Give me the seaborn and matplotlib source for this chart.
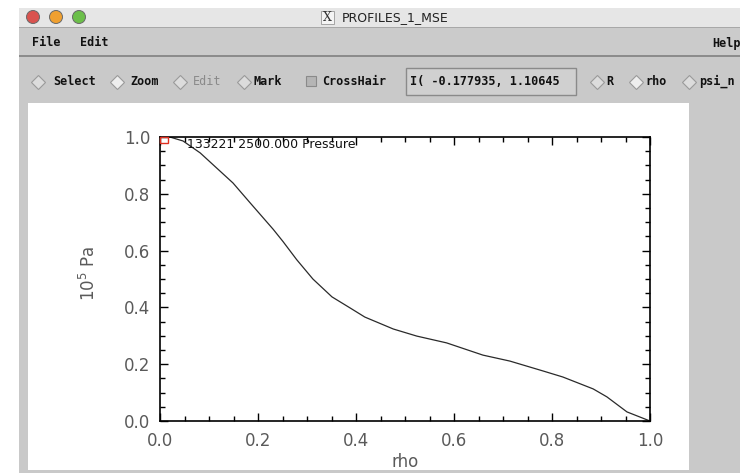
import matplotlib
matplotlib.use("Agg")
import matplotlib.pyplot as plt
from matplotlib.patches import Rectangle, Ellipse
from matplotlib.lines import Line2D
from matplotlib.ticker import MultipleLocator, FormatStrFormatter
import seaborn as sns
import pandas as pd

# ---- data ----
rho = [0.0, 0.02, 0.047, 0.082, 0.149, 0.184, 0.231, 0.251, 0.279, 0.312,
       0.351, 0.388, 0.418, 0.476, 0.524, 0.585, 0.659, 0.714, 0.782, 0.822,
       0.884, 0.912, 0.953, 1.0]
pressure = [1.0, 1.0, 0.986, 0.944, 0.838, 0.768, 0.675, 0.632, 0.568, 0.50,
            0.437, 0.398, 0.366, 0.324, 0.299, 0.275, 0.232, 0.211, 0.176, 0.155,
            0.113, 0.085, 0.032, 0.0]
x_ticks = [0.0, 0.2, 0.4, 0.6, 0.8, 1.0]
y_ticks = [0.0, 0.2, 0.4, 0.6, 0.8, 1.0]
red_box = (0.0, 0.978, 0.016, 0.022)   # x, y, width, height in data units
plot_title = "133221 2500.000 Pressure"
window_title = "PROFILES_1_MSE"
cursor_text = "I( -0.177935, 1.10645"

df = pd.DataFrame({"rho": rho, "pressure": pressure})

sns.set_theme(style="ticks")
plt.rcParams["font.family"] = ["DejaVu Sans"]
plt.rcParams["mathtext.fontset"] = "custom"
plt.rcParams["mathtext.rm"] = "DejaVu Sans"

W, H = 740, 473
fig = plt.figure(figsize=(W / 100, H / 100), dpi=100, facecolor="white")


def box(x0, y0, x1, y1, **kw):
    r = Rectangle((x0 / W, 1 - y1 / H), (x1 - x0) / W, (y1 - y0) / H,
                  transform=fig.transFigure, zorder=-5, **kw)
    fig.add_artist(r)
    return r


def ftext(x, y, s, **kw):
    fig.text(x / W, 1 - y / H, s, **kw)


def diamond(x, y, fc="#dcdcdc"):
    fig.add_artist(Line2D([x / W], [1 - y / H], marker="D", markersize=7,
                          markerfacecolor=fc, markeredgecolor="#9a9a9a",
                          markeredgewidth=0.8, transform=fig.transFigure))


# ---- window chrome ----
gray = "#c9c9c9"
box(19, 8, 740, 28, facecolor="#e6e6e6", edgecolor="none")
box(19, 27, 740, 28.5, facecolor="#a8a8a8", edgecolor="none")
box(19, 28.5, 740, 55, facecolor="#cbcbcb", edgecolor="none")
box(19, 55, 740, 57.5, facecolor="#8c8c8c", edgecolor="none")
box(19, 57.5, 740, 473, facecolor=gray, edgecolor="none")
box(28, 103, 689, 470, facecolor="white", edgecolor="none")

for cx, col in [(33, "#d9534f"), (56, "#f0a030"), (79, "#6cbf4a")]:
    fig.add_artist(Ellipse((cx / W, 1 - 17 / H), 13 / W, 13 / H, transform=fig.transFigure,
                           facecolor=col, edgecolor="#6a6a6a", lw=0.7))

box(321, 11, 334, 24, facecolor="#f4f4f4", edgecolor="#999", lw=0.6)
ftext(327.5, 17.5, "X", fontsize=9, family="DejaVu Serif", ha="center", va="center", color="#333")
ftext(342, 17.5, window_title, fontsize=9, ha="left", va="center", color="#222")

mono = dict(family="DejaVu Sans Mono", fontweight="bold", fontsize=8.5, va="center", color="#111")
ftext(32, 43, "File", ha="left", **mono)
ftext(80, 43, "Edit", ha="left", **mono)
ftext(712, 43, "Help", ha="left", **mono)

ty = 81.5
diamond(38, ty)
ftext(53, ty, "Select", ha="left", **mono)
diamond(117, ty, fc="#eeeeee")
ftext(130, ty, "Zoom", ha="left", **mono)
diamond(180, ty)
ftext(193, ty, "Edit", ha="left", family="DejaVu Sans Mono", fontsize=8.5, va="center", color="#8a8a8a")
diamond(244, ty)
ftext(254, ty, "Mark", ha="left", **mono)
box(306, 76, 316, 86, facecolor="#b5b5b5", edgecolor="#8a8a8a", lw=0.8)
ftext(322, ty, "CrossHair", ha="left", **mono)
box(406, 68, 576, 95, facecolor="#d0d0d0", edgecolor="#8a8a8a", lw=1)
ftext(410, ty, cursor_text, ha="left", **mono)
diamond(597, ty)
ftext(606, ty, "R", ha="left", **mono)
diamond(636, ty, fc="#eeeeee")
ftext(645, ty, "rho", ha="left", **mono)
diamond(689, ty)
ftext(699, ty, "psi_n", ha="left", **mono)

# ---- the plot ----
ax = fig.add_axes([160 / W, 1 - 421 / H, 490 / W, 284 / H])
ax.set_facecolor("white")
sns.lineplot(data=df, x="rho", y="pressure", ax=ax, color="#2a2a2a",
             linewidth=0.9, estimator=None, sort=False)
ax.add_patch(Rectangle((red_box[0], red_box[1]), red_box[2], red_box[3],
                       fill=False, edgecolor="#e03020", lw=1.0, clip_on=False, zorder=5))

ax.set_xlim(0, 1)
ax.set_ylim(0, 1)
ax.set_xticks(x_ticks)
ax.set_yticks(y_ticks)
ax.xaxis.set_minor_locator(MultipleLocator(0.05))
ax.yaxis.set_minor_locator(MultipleLocator(0.05))
ax.xaxis.set_major_formatter(FormatStrFormatter("%.1f"))
ax.yaxis.set_major_formatter(FormatStrFormatter("%.1f"))
for s in ax.spines.values():
    s.set_visible(True)
    s.set_color("black")
    s.set_linewidth(1.2)
ax.tick_params(which="both", direction="in", top=True, right=True,
               color="black", width=1.0)
ax.tick_params(which="major", length=6)
ax.tick_params(which="minor", length=3.5)
ax.tick_params(axis="x", which="major", pad=8, labelsize=12, labelcolor="#5a5a5a")
ax.tick_params(axis="y", which="major", pad=7, labelsize=12, labelcolor="#5a5a5a")

ax.set_xlabel("rho", fontsize=12, color="#5a5a5a")
ax.set_ylabel(r"$\mathregular{10^5}$ Pa", fontsize=12, color="#5a5a5a")
ax.xaxis.set_label_coords(0.5, -0.113)
ax.yaxis.set_label_coords(-0.125, 0.52)

ax.text(0.055, 0.975, plot_title, fontsize=9, color="#111", ha="left", va="center")

fig.savefig("out.png", dpi=100, facecolor="white")
